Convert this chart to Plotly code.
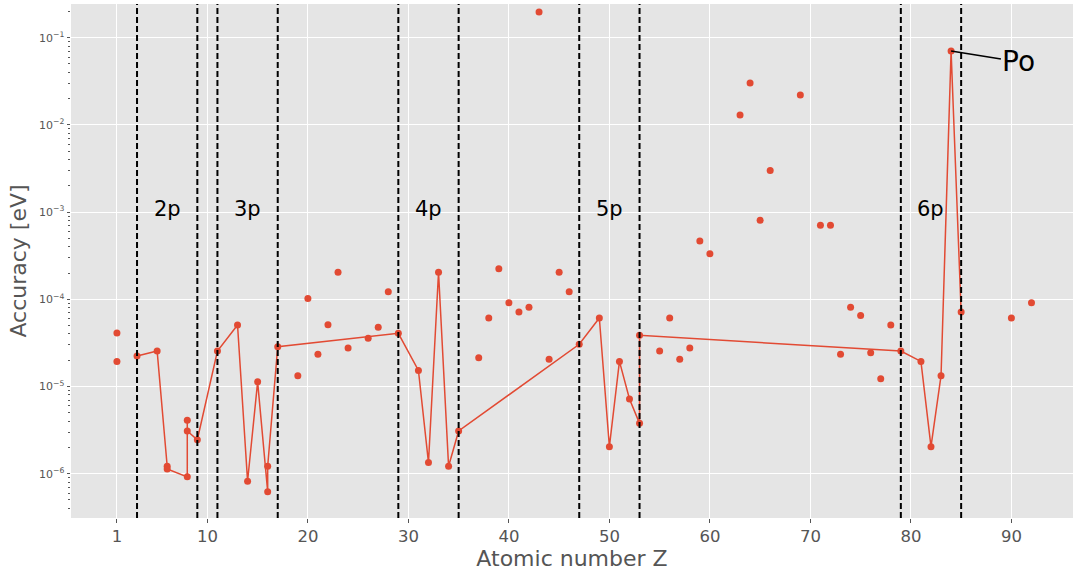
import numpy as np
import plotly.graph_objects as go

# ---- data ----
line_z = [3, 5, 6, 6, 8, 8, 8, 9, 11, 13, 14, 15, 16, 16, 17, 29, 31, 32, 33, 34, 35,
          47, 49, 50, 51, 52, 53, 53, 79, 81, 82, 83, 84, 85]
line_acc = [2.24e-5, 2.55e-5, 1.22e-6, 1.13e-6, 9.2e-7, 4.09e-6, 3.09e-6, 2.45e-6,
            2.55e-5, 5.07e-5, 8.2e-7, 1.13e-5, 6.2e-7, 1.22e-6, 2.86e-5, 4.07e-5,
            1.53e-5, 1.34e-6, 2.04e-4, 1.22e-6, 3.09e-6, 3.05e-5, 6.1e-5, 2.04e-6,
            1.94e-5, 7.2e-6, 3.78e-6, 3.86e-5, 2.55e-5, 1.94e-5, 2.04e-6, 1.33e-5,
            7.03e-2, 7.15e-5]

other_z = [1, 1, 19, 20, 21, 22, 23, 24, 26, 27, 28, 37, 38, 39, 40, 41, 42, 43, 44, 45,
           46, 55, 56, 57, 58, 59, 60, 63, 64, 65, 66, 69, 71, 72, 73, 74, 75, 76, 77,
           78, 90, 92]
other_acc = [4.1e-5, 1.94e-5, 1.33e-5, 1.02e-4, 2.34e-5, 5.1e-5, 2.04e-4, 2.76e-5,
             3.57e-5, 4.78e-5, 1.22e-4, 2.14e-5, 6.1e-5, 2.24e-4, 9.14e-5, 7.15e-5,
             8.1e-5, 0.197, 2.05e-5, 2.04e-4, 1.22e-4, 2.55e-5, 6.1e-5, 2.05e-5,
             2.76e-5, 4.67e-4, 3.33e-4, 1.3e-2, 3.03e-2, 8.05e-4, 3.0e-3, 2.2e-2,
             7.06e-4, 7.06e-4, 2.34e-5, 8.1e-5, 6.5e-5, 2.44e-5, 1.23e-5, 5.07e-5,
             6.1e-5, 9.14e-5]

shell_bounds = [3, 9, 11, 17, 29, 35, 47, 53, 79, 85]
shell_labels = ["2p", "3p", "4p", "5p", "6p"]
shell_label_z = [6, 14, 32, 50, 82]
shell_label_acc = 1.09e-3

x_ticks = [1, 10, 20, 30, 40, 50, 60, 70, 80, 90]
y_decades = [-6, -5, -4, -3, -2, -1]

po_z, po_acc = 84, 7.03e-2
po_text_z, po_text_acc = 90.75, 0.0526

RED = "#E24A33"
GREY = "#555555"
FONT = "DejaVu Sans"

fig = go.Figure()
fig.add_trace(go.Scatter(x=other_z, y=other_acc, mode="markers",
                         marker=dict(color=RED, size=7, line=dict(width=0)),
                         showlegend=False))
fig.add_trace(go.Scatter(x=line_z, y=line_acc, mode="lines+markers",
                         line=dict(color=RED, width=1.5),
                         marker=dict(color=RED, size=7, line=dict(width=0)),
                         showlegend=False))

for zb in shell_bounds:
    fig.add_shape(type="line", xref="x", yref="paper", x0=zb, x1=zb, y0=0, y1=1,
                  line=dict(color="black", width=2, dash="6px,3px"), layer="above")

for lab, zl in zip(shell_labels, shell_label_z):
    fig.add_annotation(x=zl, y=np.log10(shell_label_acc), text=lab, showarrow=False,
                       font=dict(family=FONT, size=21, color="black"),
                       xanchor="center", yanchor="middle")

fig.add_annotation(x=po_z, y=np.log10(po_acc), ax=po_text_z, ay=np.log10(po_text_acc),
                   axref="x", ayref="y", text="Po", showarrow=True, arrowhead=0,
                   arrowwidth=1.5, arrowcolor="black", standoff=0,
                   font=dict(family=FONT, size=28, color="black"))

# y ticks: majors with labels, minors as minor ticks
major_vals = [10.0 ** d for d in y_decades]
major_text = ["10<sup>\u2212%d</sup>" % (-d) for d in y_decades]
minor_vals = [m * 10.0 ** d for d in range(-7, 0) for m in range(2, 10)]

fig.update_layout(
    width=1073, height=571,
    margin=dict(l=71, r=0, t=4, b=53),
    paper_bgcolor="white", plot_bgcolor="#E5E5E5",
    font=dict(family=FONT, color=GREY),
    xaxis=dict(range=[-3.57, 96.13], tickvals=x_ticks, ticktext=[str(t) for t in x_ticks],
               showgrid=True, gridcolor="white", gridwidth=1, zeroline=False,
               showline=False, ticks="outside", ticklen=3.5, tickwidth=1, tickcolor=GREY,
               tickfont=dict(family=FONT, size=16.5, color=GREY),
               title=dict(text="Atomic number Z", font=dict(family=FONT, size=22, color=GREY),
                          standoff=4)),
    yaxis=dict(type="log", range=[-6.508, -0.614], tickvals=major_vals, ticktext=major_text,
               showgrid=True, gridcolor="white", gridwidth=1, zeroline=False,
               showline=False, ticks="outside", ticklen=3.5, tickwidth=1, tickcolor=GREY,
               tickfont=dict(family=FONT, size=11, color=GREY),
               minor=dict(tickvals=minor_vals, ticks="outside", ticklen=2, tickwidth=0.8,
                          tickcolor=GREY, showgrid=False),
               title=dict(text="Accuracy [eV]", font=dict(family=FONT, size=22, color=GREY),
                          standoff=6)),
)

fig.write_html("out.html")
